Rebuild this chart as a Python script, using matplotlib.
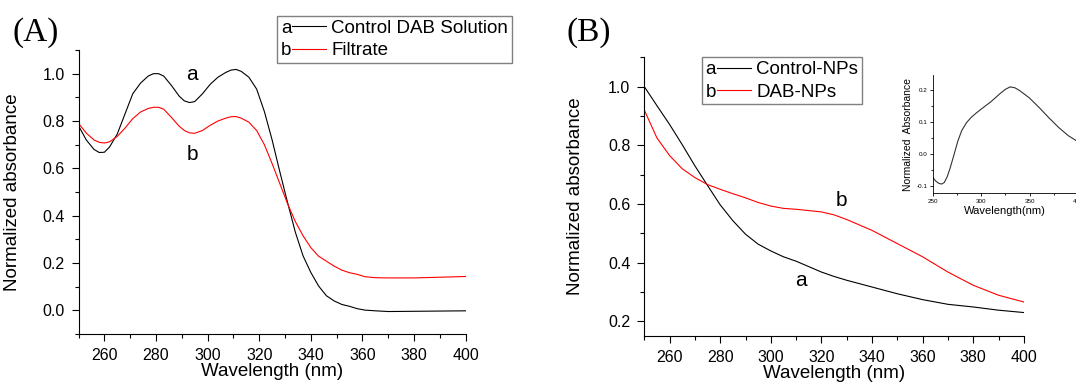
import matplotlib
matplotlib.use("Agg")
import matplotlib.pyplot as plt
from matplotlib.legend_handler import HandlerBase
from matplotlib.lines import Line2D
from matplotlib.text import Text
from matplotlib.ticker import MultipleLocator, FormatStrFormatter

plt.rcParams['font.family'] = ['Liberation Sans', 'DejaVu Sans']

# (A) control DAB solution vs filtrate
wl_a = [250, 253, 256, 258, 260, 262, 265, 268, 271, 274, 277, 279, 281, 283,
        286, 289, 291, 293, 295, 298, 301, 304, 307, 309, 311, 313, 316, 319,
        322, 325, 328, 331, 334, 337, 340, 343, 346, 349, 352, 355, 358, 361,
        365, 370, 380, 390, 400]
dab_a = [0.78, 0.72, 0.68, 0.667, 0.668, 0.69, 0.745, 0.83, 0.915, 0.96, 0.99,
         1.0, 1.0, 0.99, 0.95, 0.905, 0.885, 0.878, 0.882, 0.915, 0.955, 0.985,
         1.005, 1.015, 1.018, 1.01, 0.985, 0.935, 0.84, 0.72, 0.585, 0.455,
         0.33, 0.23, 0.16, 0.103, 0.062, 0.04, 0.025, 0.017, 0.007, 0.001,
         -0.002, -0.005, -0.004, -0.003, -0.002]
filt_a = [0.79, 0.749, 0.72, 0.71, 0.707, 0.712, 0.735, 0.77, 0.81, 0.838, 0.853,
          0.858, 0.858, 0.85, 0.815, 0.778, 0.76, 0.75, 0.748, 0.76, 0.782, 0.8,
          0.812, 0.818, 0.819, 0.812, 0.795, 0.76, 0.7, 0.62, 0.535, 0.45, 0.375,
          0.315, 0.265, 0.229, 0.208, 0.187, 0.17, 0.159, 0.152, 0.142, 0.138,
          0.137, 0.137, 0.14, 0.143]

# (B) control NPs vs DAB-loaded NPs
wl_b = [250, 255, 260, 265, 270, 275, 280, 285, 290, 295, 300, 305, 310, 320,
        325, 330, 340, 350, 360, 370, 380, 390, 400]
ctrl_np = [1.0, 0.935, 0.871, 0.802, 0.73, 0.663, 0.597, 0.543, 0.497, 0.463,
           0.44, 0.42, 0.405, 0.368, 0.353, 0.34, 0.317, 0.294, 0.274, 0.258,
           0.249, 0.238, 0.23]
dab_np = [0.92, 0.825, 0.765, 0.72, 0.69, 0.666, 0.65, 0.635, 0.621, 0.605,
          0.593, 0.585, 0.582, 0.573, 0.563, 0.547, 0.51, 0.465, 0.42, 0.368,
          0.323, 0.289, 0.266]

# inset: difference spectrum
wl_in = [250, 253, 256, 259, 262, 265, 268, 272, 276, 280, 285, 290, 295, 300,
         310, 320, 325, 330, 335, 340, 350, 360, 370, 380, 390, 400]
diff_in = [-0.074, -0.085, -0.092, -0.095, -0.09, -0.072, -0.045, -0.003, 0.04,
           0.073, 0.098, 0.115, 0.128, 0.14, 0.163, 0.19, 0.202, 0.21, 0.207,
           0.198, 0.175, 0.145, 0.113, 0.083, 0.057, 0.038]


class LetterLine:
    def __init__(self, letter, color):
        self.letter = letter
        self.color = color


class LetterLineHandler(HandlerBase):
    def create_artists(self, legend, orig_handle, xdescent, ydescent,
                       width, height, fontsize, trans):
        t = Text(-xdescent, -ydescent + height / 2 - fontsize * 0.36,
                 orig_handle.letter, fontsize=fontsize, color='black',
                 transform=trans)
        x0 = -xdescent + fontsize * 0.58
        ln = Line2D([x0, width - xdescent], [height / 2 - ydescent] * 2,
                    color=orig_handle.color, lw=0.8, transform=trans)
        return [t, ln]


def style_axes(ax, ylim):
    ax.spines['top'].set_visible(False)
    ax.spines['right'].set_visible(False)
    ax.set_xlim(250, 400)
    ax.set_ylim(*ylim)
    ax.xaxis.set_major_locator(MultipleLocator(20))
    ax.xaxis.set_minor_locator(MultipleLocator(10))
    ax.yaxis.set_major_locator(MultipleLocator(0.2))
    ax.yaxis.set_minor_locator(MultipleLocator(0.1))
    ax.yaxis.set_major_formatter(FormatStrFormatter('%.1f'))
    ax.tick_params(which='major', length=5, width=0.8, labelsize=11.5, pad=5)
    ax.tick_params(which='minor', length=3, width=0.8)
    ax.set_xlabel('Wavelength (nm)', fontsize=13.5, labelpad=0)
    ax.set_ylabel('Normalized absorbance', fontsize=13.5)


def add_legend(labels, x, y):
    fig.legend([LetterLine('a', 'black'), LetterLine('b', 'red')], labels,
               handler_map={LetterLine: LetterLineHandler()},
               loc='upper left', bbox_to_anchor=(x / 1076, 1 - y / 383),
               fontsize=13.5, frameon=True, fancybox=False, edgecolor='gray',
               framealpha=1, handlelength=2.4, handletextpad=0.3,
               labelspacing=0.28, borderpad=0.2, borderaxespad=0)


fig = plt.figure(figsize=(10.76, 3.83), dpi=100)

# left spine at 78.5 px, right end at 465.6 px, spans 50..334 px from top
ax_a = fig.add_axes([0.0730, 0.1279, 0.3598, 0.7415])
ax_a.plot(wl_a, dab_a, color='black', lw=0.8)
ax_a.plot(wl_a, filt_a, color='red', lw=0.8)
style_axes(ax_a, (-0.1, 1.1))
ax_a.text(294, 0.995, 'a', fontsize=15, ha='center', va='center')
ax_a.text(294, 0.658, 'b', fontsize=15, ha='center', va='center')
ax_a.yaxis.set_label_coords(-0.149, 0.5)
add_legend(['Control DAB Solution', 'Filtrate'], 277, 16)
fig.text(13 / 1076, 1 - 17 / 383, '(A)', fontsize=24, va='top',
         family=['Liberation Serif', 'DejaVu Serif'])

ax_b = fig.add_axes([0.5988, 0.1227, 0.3527, 0.7277])
ax_b.plot(wl_b, ctrl_np, color='black', lw=0.8)
ax_b.plot(wl_b, dab_np, color='red', lw=0.8)
style_axes(ax_b, (0.15, 1.1))
ax_b.set_yticks([0.2, 0.4, 0.6, 0.8, 1.0])
ax_b.text(328, 0.613, 'b', fontsize=15, ha='center', va='center')
ax_b.text(312, 0.34, 'a', fontsize=15, ha='center', va='center')
ax_b.yaxis.set_label_coords(-0.158, 0.5)
add_legend(['Control-NPs', 'DAB-NPs'], 702, 57.3)
fig.text(567 / 1076, 1 - 17 / 383, '(B)', fontsize=24, va='top',
         family=['Liberation Serif', 'DejaVu Serif'])

# inset of the difference spectrum, running past the right edge
ax_in = fig.add_axes([0.8668, 0.496, 0.135, 0.308])
ax_in.plot(wl_in, diff_in, color='#333333', lw=0.8)
ax_in.spines['top'].set_visible(False)
ax_in.spines['right'].set_visible(False)
ax_in.set_xlim(250, 400)
ax_in.set_ylim(-0.123, 0.247)
ax_in.xaxis.set_major_locator(MultipleLocator(50))
ax_in.xaxis.set_minor_locator(MultipleLocator(25))
ax_in.yaxis.set_major_locator(MultipleLocator(0.1))
ax_in.yaxis.set_minor_locator(MultipleLocator(0.05))
ax_in.yaxis.set_major_formatter(FormatStrFormatter('%.1f'))
ax_in.tick_params(which='major', length=2.5, width=0.6, labelsize=4.5, pad=1.5)
ax_in.tick_params(which='minor', length=1.5, width=0.6)
for s in ax_in.spines.values():
    s.set_linewidth(0.6)
ax_in.set_xlabel('Wavelength(nm)', fontsize=8, labelpad=2)
ax_in.set_ylabel('Normalized  Absorbance', fontsize=7.5, labelpad=2)

fig.savefig('out.png', dpi=100)
